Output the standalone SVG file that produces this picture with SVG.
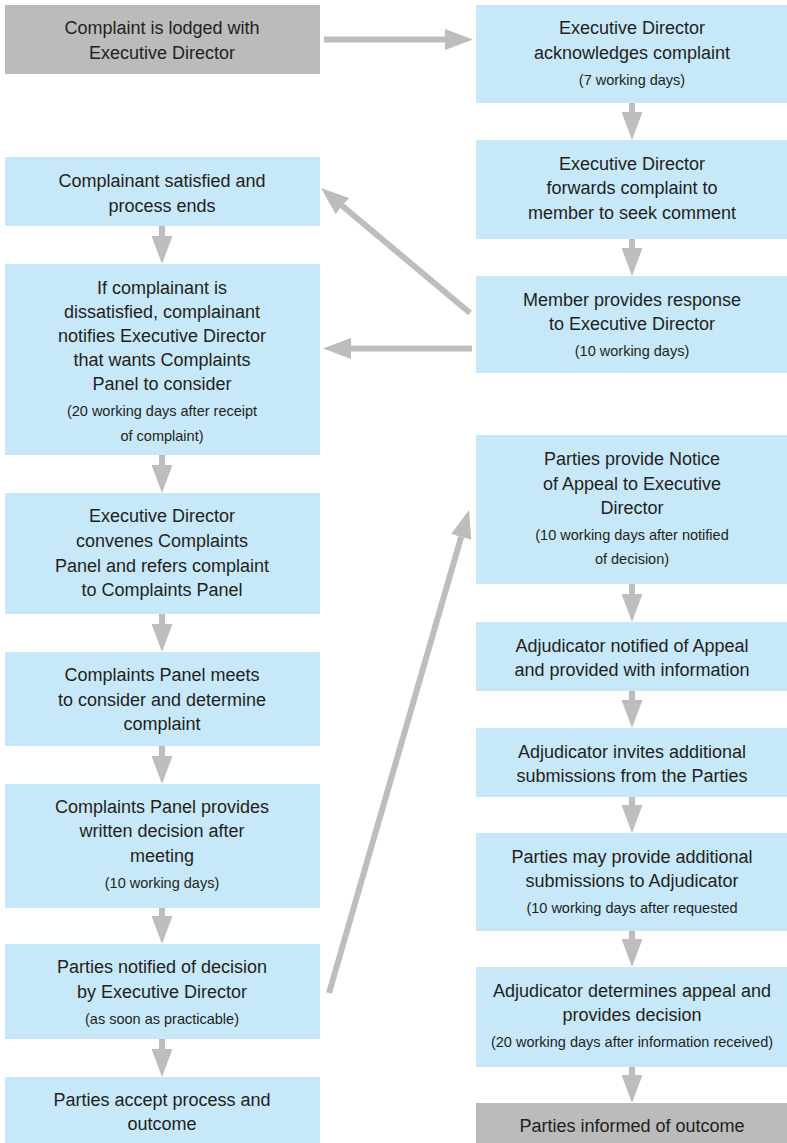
<svg xmlns="http://www.w3.org/2000/svg" width="787" height="1143" viewBox="0 0 787 1143">
<style>
.b{fill:#C7E8F8}
.g{fill:#BBBBBC}
text{font-family:"Liberation Sans",Arial,sans-serif;fill:#231F20;text-anchor:middle}
.m{font-size:18px}
.s{font-size:14.5px}
.c line{stroke:#BDBDBE;stroke-width:6;marker-end:url(#ah)}
</style>
<defs>
<marker id="ah" viewBox="0 0 28 21" refX="0" refY="10.5" markerWidth="28" markerHeight="21" markerUnits="userSpaceOnUse" orient="auto">
<path d="M0,0 L28,10.5 L0,21 z" fill="#BDBDBE"/>
</marker>
</defs>
<rect width="787" height="1143" fill="#FFFFFF"/>

<g id="L1"><rect class="g" x="5" y="5" width="315" height="69"/>
<text class="m" x="162" y="34">Complaint is lodged with</text>
<text class="m" x="162" y="58.5">Executive Director</text></g>

<g id="L2"><rect class="b" x="5" y="157" width="315" height="69"/>
<text class="m" x="162" y="187">Complainant satisfied and</text>
<text class="m" x="162" y="211.5">process ends</text></g>

<g id="L3"><rect class="b" x="5" y="264" width="315" height="191"/>
<text class="m" x="162" y="293.5">If complainant is</text>
<text class="m" x="162" y="317.5">dissatisfied, complainant</text>
<text class="m" x="162" y="341.5">notifies Executive Director</text>
<text class="m" x="162" y="365.5">that wants Complaints</text>
<text class="m" x="162" y="389.5">Panel to consider</text>
<text class="s" x="162" y="416">(20 working days after receipt</text>
<text class="s" x="162" y="441">of complaint)</text></g>

<g id="L4"><rect class="b" x="5" y="493" width="315" height="121"/>
<text class="m" x="162" y="522">Executive Director</text>
<text class="m" x="162" y="546.7">convenes Complaints</text>
<text class="m" x="162" y="571.5">Panel and refers complaint</text>
<text class="m" x="162" y="596.3">to Complaints Panel</text></g>

<g id="L5"><rect class="b" x="5" y="652" width="315" height="94"/>
<text class="m" x="162" y="681">Complaints Panel meets</text>
<text class="m" x="162" y="705.5">to consider and determine</text>
<text class="m" x="162" y="730">complaint</text></g>

<g id="L6"><rect class="b" x="5" y="784" width="315" height="124"/>
<text class="m" x="162" y="812.5">Complaints Panel provides</text>
<text class="m" x="162" y="837">written decision after</text>
<text class="m" x="162" y="861.5">meeting</text>
<text class="s" x="162" y="888">(10 working days)</text></g>

<g id="L7"><rect class="b" x="5" y="944" width="315" height="95"/>
<text class="m" x="162" y="973">Parties notified of decision</text>
<text class="m" x="162" y="997.5">by Executive Director</text>
<text class="s" x="162" y="1024">(as soon as practicable)</text></g>

<g id="L8"><rect class="b" x="5" y="1077" width="315" height="66"/>
<text class="m" x="162" y="1105.5">Parties accept process and</text>
<text class="m" x="162" y="1130">outcome</text></g>

<g id="R1"><rect class="b" x="476" y="5" width="311" height="98"/>
<text class="m" x="632" y="34">Executive Director</text>
<text class="m" x="632" y="58.5">acknowledges complaint</text>
<text class="s" x="632" y="85">(7 working days)</text></g>

<g id="R2"><rect class="b" x="476" y="140" width="311" height="99"/>
<text class="m" x="632" y="169.5">Executive Director</text>
<text class="m" x="632" y="194">forwards complaint to</text>
<text class="m" x="632" y="218.5">member to seek comment</text></g>

<g id="R3"><rect class="b" x="476" y="276" width="311" height="97"/>
<text class="m" x="632" y="305.5">Member provides response</text>
<text class="m" x="632" y="330">to Executive Director</text>
<text class="s" x="632" y="356">(10 working days)</text></g>

<g id="R4"><rect class="b" x="476" y="435" width="311" height="149"/>
<text class="m" x="632" y="465">Parties provide Notice</text>
<text class="m" x="632" y="489.5">of Appeal to Executive</text>
<text class="m" x="632" y="514">Director</text>
<text class="s" x="632" y="540">(10 working days after notified</text>
<text class="s" x="632" y="564">of decision)</text></g>

<g id="R5"><rect class="b" x="476" y="622" width="311" height="69"/>
<text class="m" x="632" y="651.5">Adjudicator notified of Appeal</text>
<text class="m" x="632" y="676">and provided with information</text></g>

<g id="R6"><rect class="b" x="476" y="728" width="311" height="69"/>
<text class="m" x="632" y="757.5">Adjudicator invites additional</text>
<text class="m" x="632" y="782">submissions from the Parties</text></g>

<g id="R7"><rect class="b" x="476" y="833" width="311" height="98"/>
<text class="m" x="632" y="862.5">Parties may provide additional</text>
<text class="m" x="632" y="887">submissions to Adjudicator</text>
<text class="s" x="632" y="913">(10 working days after requested</text></g>

<g id="R8"><rect class="b" x="476" y="967" width="311" height="100"/>
<text class="m" x="632" y="996.5">Adjudicator determines appeal and</text>
<text class="m" x="632" y="1021">provides decision</text>
<text class="s" x="632" y="1047">(20 working days after information received)</text></g>

<g id="R9"><rect class="g" x="476" y="1103" width="311" height="40"/>
<text class="m" x="632" y="1132">Parties informed of outcome</text></g>

<g id="connectors" class="c">
<line x1="324" y1="39.5" x2="445" y2="39.5"/>
<line x1="472" y1="348.5" x2="351" y2="348.5"/>
<line x1="470" y1="313" x2="342.4" y2="206"/>
<line x1="329" y1="993" x2="461.2" y2="536.9"/>
<line x1="162" y1="226" x2="162" y2="236"/>
<line x1="162" y1="455" x2="162" y2="465"/>
<line x1="162" y1="614" x2="162" y2="624"/>
<line x1="162" y1="746" x2="162" y2="756"/>
<line x1="162" y1="908" x2="162" y2="916"/>
<line x1="162" y1="1039" x2="162" y2="1049"/>
<line x1="632" y1="103" x2="632" y2="112"/>
<line x1="632" y1="239" x2="632" y2="248"/>
<line x1="632" y1="584" x2="632" y2="594"/>
<line x1="632" y1="691" x2="632" y2="700"/>
<line x1="632" y1="797" x2="632" y2="805"/>
<line x1="632" y1="931" x2="632" y2="939"/>
<line x1="632" y1="1067" x2="632" y2="1075"/>
</g>
</svg>
